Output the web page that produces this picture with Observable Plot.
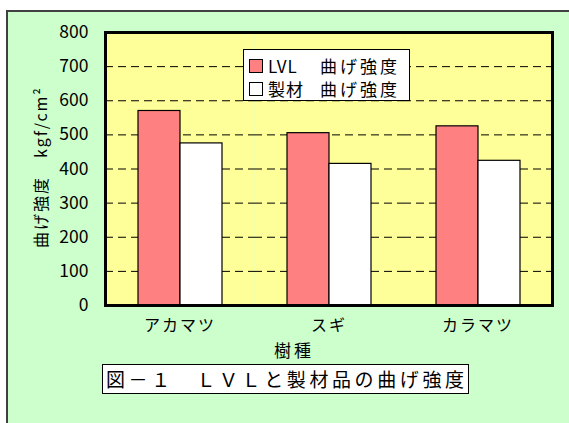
<!DOCTYPE html>
<html><head><meta charset="utf-8">
<script src="https://cdn.jsdelivr.net/npm/d3@7"></script>
<script src="https://cdn.jsdelivr.net/npm/@observablehq/plot@0.6"></script>
<style>
html,body{margin:0;padding:0;background:#fff;width:569px;height:423px;overflow:hidden;font-family:"Noto Sans CJK JP",sans-serif;}
#bg{position:absolute;left:6px;top:10px;width:600px;height:500px;background:#CCFFCC;border-left:2px solid #404040;border-top:2px solid #404040;}
#chart{position:absolute;left:0;top:0;}
g[aria-label^="fx-axis"] text{letter-spacing:2px;}
g[aria-label^="y-axis"] text{font-size:17.5px;}
.lbl{position:absolute;color:#000;white-space:nowrap;}
#legend{position:absolute;left:243px;top:49px;width:167px;height:52px;background:#fff;border:1px solid #000;box-sizing:border-box;}
#legend .row{position:absolute;left:0;height:20px;font-size:17px;line-height:20px;}
#legend .sw{position:absolute;left:5px;top:3px;width:12px;height:12px;border:1px solid #000;}
#caption{position:absolute;left:102px;top:364px;width:367px;height:30px;background:#fff;border:1px solid #000;box-sizing:border-box;font-size:19px;line-height:28px;padding-left:3px;letter-spacing:3.6px;white-space:nowrap;}
</style></head>
<body>
<div id="bg"></div>
<div id="chart"></div>
<div id="legend"></div>
<div class="lbl" id="xtitle" style="left:274px;top:337px;font-size:17px;letter-spacing:3px;">樹種</div>
<div class="lbl" id="ytitle" style="left:40px;top:167px;font-size:16px;letter-spacing:2px;transform:translate(-50%,-50%) rotate(-90deg);">曲げ強度　kgf/cm²</div>
<div id="caption">図－１　ＬＶＬと製材品の曲げ強度</div>
<script>
const categories = ["アカマツ", "スギ", "カラマツ"];
const series = ["LVL", "製材"];
const seriesLabels = ["LVL　曲げ強度", "製材 曲げ強度"];
const colors = ["#FF8080", "#FFFFFF"];
const lvlValues = [570, 505, 525];
const seizaiValues = [475, 415, 424];
const yTicks = [0, 100, 200, 300, 400, 500, 600, 700, 800];
const gridTicks = [100, 200, 300, 400, 500, 600, 700];

const data = [];
categories.forEach((c, i) => {
  data.push({tree: c, series: series[0], value: lvlValues[i]});
  data.push({tree: c, series: series[1], value: seizaiValues[i]});
});

const chart = Plot.plot({
  width: 569,
  height: 345,
  marginLeft: 104,
  marginRight: 17,
  marginTop: 32,
  marginBottom: 40,
  style: {background: "transparent", fontFamily: "'Noto Sans CJK JP', sans-serif", fontSize: "16px", color: "#000"},
  fx: {domain: categories, padding: 0, label: null, tickSize: 0, tickPadding: 14},
  x: {domain: series, paddingInner: 0, paddingOuter: 0.76, axis: null},
  y: {domain: [0, 800], ticks: yTicks, tickSize: 0, tickPadding: 17, label: null, tickFormat: d => String(d)},
  color: {domain: series, range: colors},
  marks: [
    Plot.frame({fill: "#FFFF99"}),
    Plot.ruleY(gridTicks, {stroke: "#000", strokeWidth: 1, strokeDasharray: "8,5"}),
    Plot.barY(data, {fx: "tree", x: "series", y: "value", fill: "series", stroke: "#000", strokeWidth: 1.2}),
    Plot.frame({stroke: "#000", strokeWidth: 3, facet: "super"})
  ]
});
document.getElementById("chart").appendChild(chart);

const legend = document.getElementById("legend");
series.forEach((s, i) => {
  const row = document.createElement("div");
  row.className = "row";
  row.style.top = (6 + i * 23) + "px";
  row.style.width = "160px";
  const sw = document.createElement("div");
  sw.className = "sw";
  sw.style.background = colors[i];
  row.appendChild(sw);
  const parts = seriesLabels[i].split(/[\s　]/);
  const n = document.createElement("span");
  n.style.position = "absolute"; n.style.left = "24px"; n.style.letterSpacing = "1px";
  n.textContent = parts[0];
  row.appendChild(n);
  const t = document.createElement("span");
  t.style.position = "absolute"; t.style.left = "76px"; t.style.letterSpacing = "3px";
  t.textContent = parts[1];
  row.appendChild(t);
  legend.appendChild(row);
});
</script>
</body></html>
